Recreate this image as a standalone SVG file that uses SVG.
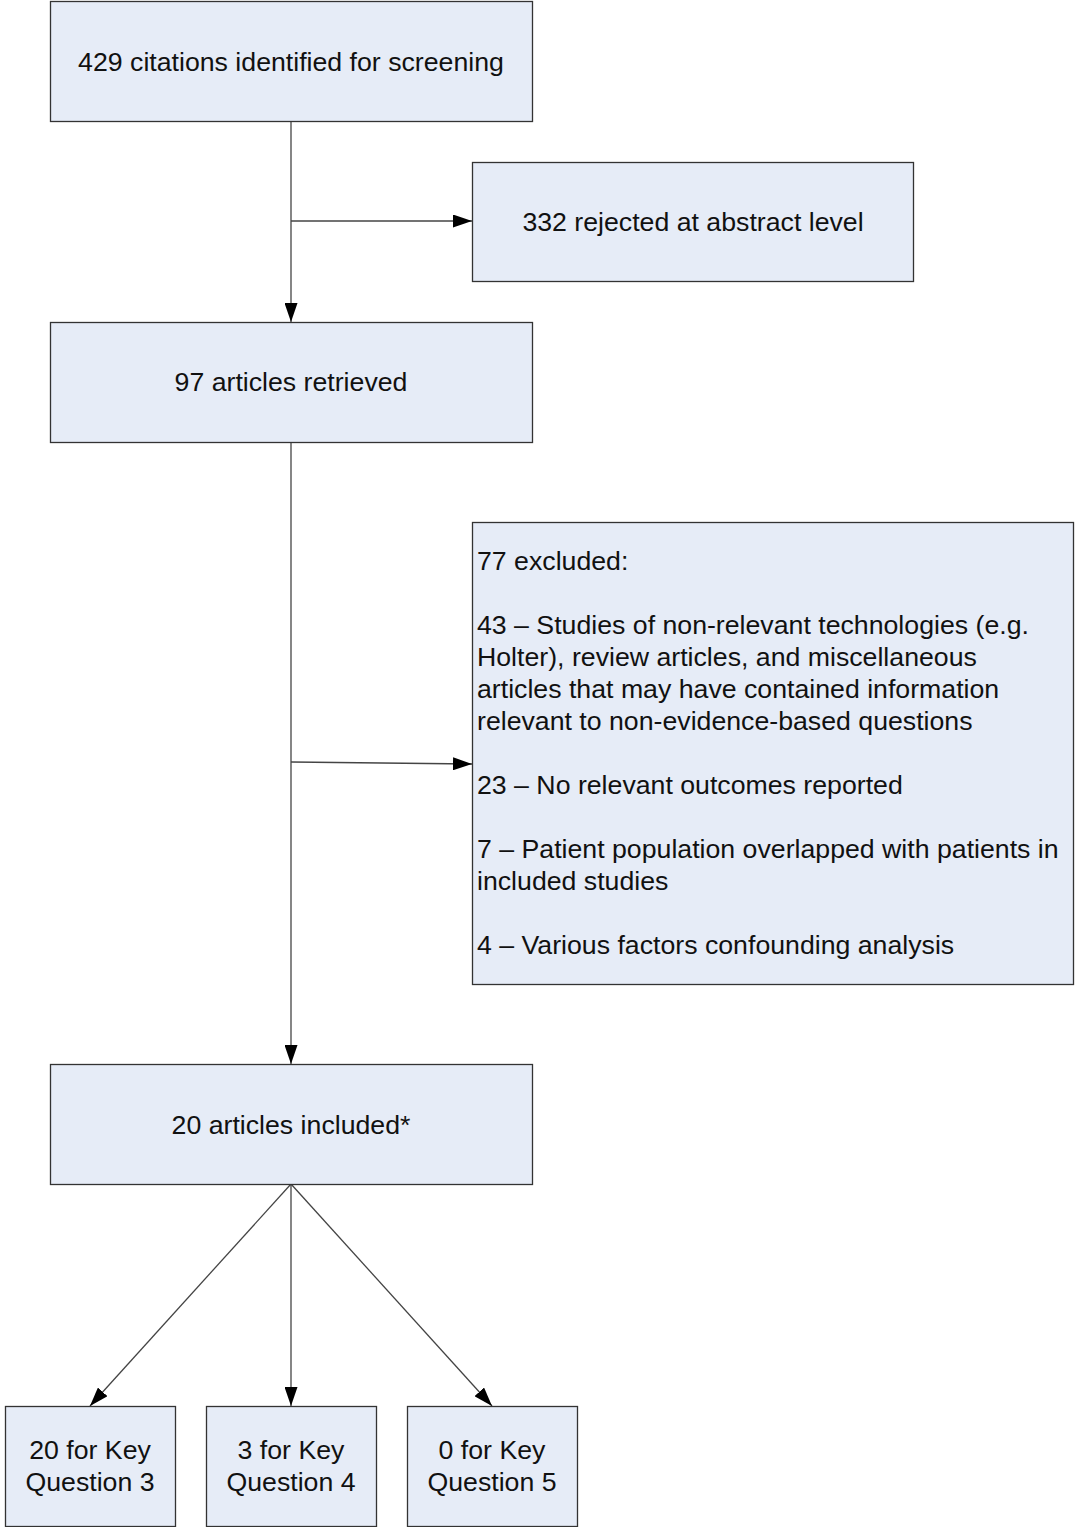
<svg xmlns="http://www.w3.org/2000/svg" width="1075" height="1527" viewBox="0 0 1075 1527">
<style>
.box{fill:#E6ECF7;stroke:#333;stroke-width:1.3}
.t{font-family:"Liberation Sans",Arial,sans-serif;font-size:26.7px;fill:#111}
.c{text-anchor:middle}
.ln{stroke:#444;stroke-width:1.3;fill:none}
</style>
<defs>
<marker id="ah" viewBox="0 0 19 13" refX="19" refY="6.5" markerWidth="19" markerHeight="13" markerUnits="userSpaceOnUse" orient="auto">
<path d="M0,0 L19,6.5 L0,13 Z" fill="#000"/>
</marker>
</defs>
<rect width="1075" height="1527" fill="#fff"/>
<g id="connectors">
<line class="ln" x1="291" y1="121" x2="291" y2="322" marker-end="url(#ah)"/>
<line class="ln" x1="291" y1="221" x2="472" y2="221" marker-end="url(#ah)"/>
<line class="ln" x1="291" y1="442" x2="291" y2="1064" marker-end="url(#ah)"/>
<line class="ln" x1="291" y1="762" x2="472" y2="764" marker-end="url(#ah)"/>
<line class="ln" x1="291" y1="1184" x2="90" y2="1406" marker-end="url(#ah)"/>
<line class="ln" x1="291" y1="1184" x2="291" y2="1406" marker-end="url(#ah)"/>
<line class="ln" x1="291" y1="1184" x2="492" y2="1406" marker-end="url(#ah)"/>
</g>
<g id="n1"><rect class="box" x="50.5" y="1.5" width="482" height="120"/><text class="t c" x="291" y="71">429 citations identified for screening</text></g>
<g id="n2"><rect class="box" x="472.5" y="162.5" width="441" height="119"/><text class="t c" x="693" y="231">332 rejected at abstract level</text></g>
<g id="n3"><rect class="box" x="50.5" y="322.5" width="482" height="120"/><text class="t c" x="291" y="391">97 articles retrieved</text></g>
<g id="n4"><rect class="box" x="472.5" y="522.5" width="601" height="462"/>
<text class="t" x="477">
<tspan x="477" y="570">77 excluded:</tspan>
<tspan x="477" y="634">43 – Studies of non-relevant technologies (e.g.</tspan>
<tspan x="477" y="666">Holter), review articles, and miscellaneous</tspan>
<tspan x="477" y="698">articles that may have contained information</tspan>
<tspan x="477" y="730">relevant to non-evidence-based questions</tspan>
<tspan x="477" y="794">23 – No relevant outcomes reported</tspan>
<tspan x="477" y="858">7 – Patient population overlapped with patients in</tspan>
<tspan x="477" y="890">included studies</tspan>
<tspan x="477" y="954">4 – Various factors confounding analysis</tspan>
</text></g>
<g id="n5"><rect class="box" x="50.5" y="1064.5" width="482" height="120"/><text class="t c" x="291" y="1134">20 articles included*</text></g>
<g id="n6"><rect class="box" x="5.5" y="1406.5" width="170" height="120"/><text class="t c" x="90"><tspan x="90" y="1459">20 for Key</tspan><tspan x="90" y="1491">Question 3</tspan></text></g>
<g id="n7"><rect class="box" x="206.5" y="1406.5" width="170" height="120"/><text class="t c" x="291"><tspan x="291" y="1459">3 for Key</tspan><tspan x="291" y="1491">Question 4</tspan></text></g>
<g id="n8"><rect class="box" x="407.5" y="1406.5" width="170" height="120"/><text class="t c" x="492"><tspan x="492" y="1459">0 for Key</tspan><tspan x="492" y="1491">Question 5</tspan></text></g>
</svg>
